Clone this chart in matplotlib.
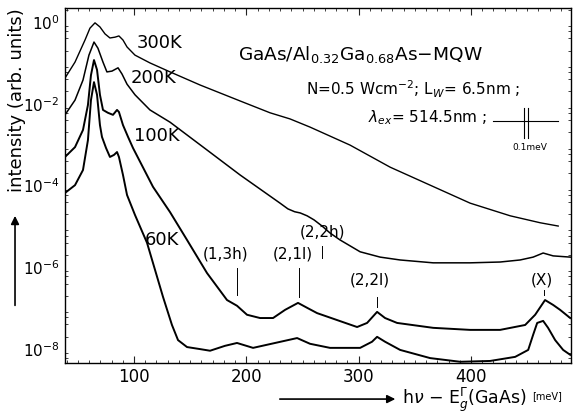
import matplotlib
matplotlib.use("Agg")
import matplotlib.pyplot as plt
import numpy as np

# Data (photon energy above GaAs gap in meV, log10 of intensity)
e_300 = [38.6, 47.5, 56.4, 60.8, 65.3, 69.7, 74.2, 78.6, 83.1, 86.6, 90.2, 93.8, 100.9, 114.2,
         132.1, 158.8, 194.4, 221.1, 238.9, 256.7, 292.3, 328.0, 363.6, 399.2, 434.9, 461.6, 477.6]
lg_300 = [-1.37, -0.98, -0.44, -0.15, -0.02, -0.12, -0.29, -0.39, -0.37, -0.34, -0.44, -0.61, -0.81, -1.00,
          -1.22, -1.54, -1.93, -2.22, -2.37, -2.57, -3.01, -3.55, -3.99, -4.43, -4.74, -4.91, -4.99]

e_200 = [38.6, 47.5, 54.6, 59.9, 64.4, 67.9, 72.4, 75.9, 80.4, 85.8, 89.3, 93.8, 100.9, 114.2,
         132.1, 165.0, 194.4, 230.0, 237.0, 243.0, 248.0, 254.1, 260.3, 267.4, 274.5, 283.4,
         301.3, 319.1, 336.9, 366.3, 399.2, 425.9, 443.7, 455.3, 464.2, 473.1, 488.3]
lg_200 = [-2.27, -1.91, -1.42, -0.81, -0.49, -0.64, -0.98, -1.22, -1.20, -1.12, -1.27, -1.52, -1.78, -2.15,
          -2.45, -3.13, -3.74, -4.43, -4.57, -4.64, -4.67, -4.74, -4.84, -4.99, -5.16, -5.33,
          -5.62, -5.75, -5.82, -5.89, -5.89, -5.87, -5.82, -5.75, -5.65, -5.72, -5.75]

e_100 = [38.6, 47.5, 54.6, 59.0, 61.7, 64.4, 67.1, 69.7, 72.4, 76.8, 81.3, 84.9, 86.6, 90.2, 94.7,
         99.1, 116.9, 132.1, 147.2, 165.0, 182.8, 191.7, 200.6, 212.2, 223.8, 234.5, 246.0, 254.1,
         263.0, 280.8, 298.6, 307.5, 316.4, 323.5, 334.2, 366.3, 399.2, 425.9, 448.2, 457.1, 465.9,
         473.1, 479.3, 488.3]
lg_100 = [-3.30, -3.06, -2.64, -2.03, -1.30, -0.93, -1.17, -1.78, -2.15, -2.22, -2.27, -2.15, -2.20, -2.52, -2.81,
          -3.08, -4.03, -4.65, -5.33, -6.14, -6.80, -6.94, -7.16, -7.24, -7.24, -7.04, -6.87, -6.99,
          -7.12, -7.29, -7.46, -7.36, -7.09, -7.24, -7.36, -7.48, -7.53, -7.53, -7.41, -7.16, -6.80,
          -6.92, -7.04, -7.24]

e_60 = [38.6, 47.5, 54.6, 59.0, 61.7, 64.4, 67.1, 69.7, 71.5, 75.1, 78.6, 82.2, 84.9, 86.6, 90.2,
        93.8, 100.9, 111.6, 125.8, 133.8, 139.2, 147.2, 158.8, 167.7, 181.0, 191.7, 206.0, 225.6,
        245.2, 256.7, 274.5, 301.3, 311.9, 316.4, 323.5, 336.9, 363.6, 390.3, 417.0, 439.3, 450.9,
        455.3, 458.9, 464.2, 468.6, 474.9, 482.0, 488.3]
lg_60 = [-4.18, -3.99, -3.62, -2.89, -1.91, -1.47, -1.78, -2.52, -2.81, -3.08, -3.30, -3.25, -3.18, -3.30, -3.74,
         -4.23, -4.72, -5.40, -6.72, -7.41, -7.78, -7.95, -8.00, -8.04, -7.92, -7.85, -7.97, -7.85,
         -7.73, -7.87, -7.97, -7.97, -7.82, -7.70, -7.82, -8.02, -8.22, -8.31, -8.29, -8.19, -8.02,
         -7.65, -7.36, -7.31, -7.48, -7.78, -8.02, -8.14]

# Transition labels: (text, energy of marker, top/bottom of marker, label height)
trans_names = ['(2,2h)', '(1,3h)', '(2,1l)', '(2,2l)', '(X)']
trans_e = [267.4, 191.7, 246.9, 316.4, 465.1]
trans_lab_e = [267.4, 181.9, 241.6, 310.2, 463.3]
trans_top = [-5.48, -6.01, -6.01, -6.72, -6.55]
trans_bot = [-5.77, -6.67, -6.72, -6.97, -6.67]
trans_lab = [-5.13, -5.67, -5.67, -6.31, -6.31]

fig = plt.figure(figsize=(5.82, 4.17), dpi=100)
ax = fig.add_axes([0.1117, 0.1295, 0.8694, 0.851])

for e, lg, lw in [(e_300, lg_300, 1.0), (e_200, lg_200, 1.1), (e_100, lg_100, 1.4), (e_60, lg_60, 1.4)]:
    ax.plot(e, 10 ** np.array(lg), color='black', lw=lw)

ax.set_yscale('log')
ax.set_xlim(38.6, 489)
ax.set_ylim(10 ** -8.34, 10 ** 0.34)

# ticks
ax.set_xticks([100, 200, 300, 400])
ax.set_xticks(np.arange(40, 490, 10), minor=True)
decades = [10.0 ** k for k in range(0, -9, -1)]
ax.set_yticks(decades)
ax.set_yticklabels([f'$10^{{{k}}}$' if k % 2 == 0 else '' for k in range(0, -9, -1)])
ax.yaxis.set_minor_locator(matplotlib.ticker.LogLocator(base=10, subs=[2, 4, 6, 8], numticks=20))
ax.yaxis.set_minor_formatter(matplotlib.ticker.NullFormatter())
ax.tick_params(which='both', direction='in', top=True, right=True, labelsize=11, color='#222222')
ax.tick_params(which='major', length=5)
ax.tick_params(which='minor', length=2.5)
ax.tick_params(axis='y', which='major', length=0, pad=4)
ax.tick_params(axis='x', labelsize=12)
for s in ax.spines.values():
    s.set_linewidth(1.0)

# curve labels
ax.text(0.142, 0.901, '300K', transform=ax.transAxes, fontsize=13, va='center')
ax.text(0.130, 0.803, '200K', transform=ax.transAxes, fontsize=13, va='center')
ax.text(0.136, 0.639, '100K', transform=ax.transAxes, fontsize=13, va='center')
ax.text(0.158, 0.346, '60K', transform=ax.transAxes, fontsize=13, va='center')

# sample description
ax.text(0.342, 0.870, r'GaAs/Al$_{0.32}$Ga$_{0.68}$As$-$MQW', transform=ax.transAxes,
        fontsize=13.3, va='center')
ax.text(0.899, 0.772, r'N=0.5 Wcm$^{-2}$; L$_W$= 6.5nm ;', transform=ax.transAxes,
        fontsize=11, va='center', ha='right')
ax.text(0.834, 0.690, r'$\lambda_{ex}$= 514.5nm ;', transform=ax.transAxes,
        fontsize=11, va='center', ha='right')

# resolution bar
ax.plot([0.846, 0.974], [0.6817, 0.6817], transform=ax.transAxes, color='black', lw=0.8)
ax.plot([0.907, 0.907], [0.634, 0.718], transform=ax.transAxes, color='black', lw=0.8)
ax.plot([0.915, 0.915], [0.634, 0.718], transform=ax.transAxes, color='black', lw=0.8)
ax.text(0.919, 0.608, '0.1meV', transform=ax.transAxes, fontsize=6.5, ha='center', va='center')

# transition markers
for name, xe, xl, yt, yb, yl in zip(trans_names, trans_e, trans_lab_e, trans_top, trans_bot, trans_lab):
    ax.plot([xe, xe], [10 ** yb, 10 ** yt], color='black', lw=0.7)
    ax.text(xl, 10 ** yl, name, fontsize=11, ha='center', va='center')

# axis labels with arrows
fig.text(0.029, 0.76, 'intensity (arb. units)', rotation=90, fontsize=13, ha='center', va='center')
fig.patches.append(matplotlib.patches.FancyArrowPatch((0.0258, 0.261), (0.0258, 0.489),
                   transform=fig.transFigure, arrowstyle='-|>', mutation_scale=12, lw=1.2, color='black'))
fig.patches.append(matplotlib.patches.FancyArrowPatch((0.476, 0.043), (0.684, 0.043),
                   transform=fig.transFigure, arrowstyle='-|>', mutation_scale=12, lw=1.2, color='black'))
fig.text(0.691, 0.040, r'h$\nu$ $-$ E$_g^\Gamma$(GaAs)', fontsize=12.5, va='center', ha='left')
fig.text(0.915, 0.050, '[meV]', fontsize=7, va='center', ha='left')

fig.savefig('out.png', dpi=100)
